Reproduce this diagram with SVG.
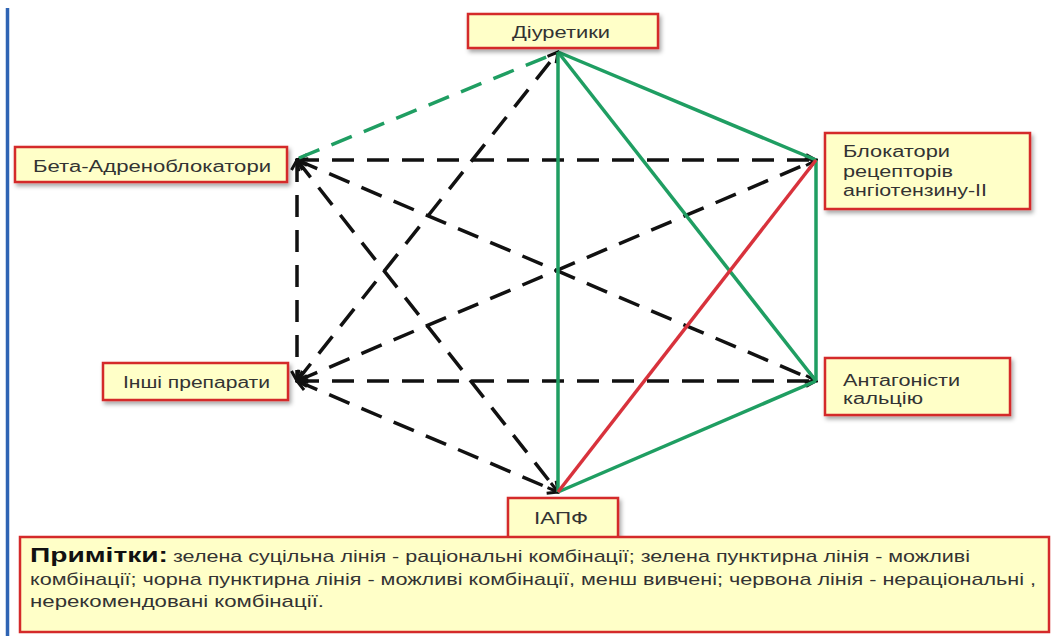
<svg xmlns="http://www.w3.org/2000/svg" width="1057" height="636" viewBox="0 0 1057 636">
<defs>
<style>
.box{fill:#ffffc8;stroke:#d42a2a;stroke-width:2.5}
.lbl{font-family:"Liberation Sans",Arial,sans-serif;font-size:16px;fill:#333}
.note{font-family:"Liberation Sans",Arial,sans-serif;font-size:17px;fill:#333}
.bold{font-family:"Liberation Sans",Arial,sans-serif;font-weight:bold;font-size:20px;fill:#111}
.g{stroke:#1f9e62;stroke-width:3.5;fill:none}
.gd{stroke:#1f9e62;stroke-width:3.5;fill:none;stroke-dasharray:22 13}
.r{stroke:#d8323c;stroke-width:3.5;fill:none}
.bd{stroke:#111;stroke-width:3.5;fill:none;stroke-dasharray:22 13;marker-start:url(#ah);marker-end:url(#ah)}
</style>
<filter id="sh" x="-10%" y="-20%" width="130%" height="160%">
<feDropShadow dx="2" dy="3" stdDeviation="2" flood-color="#000" flood-opacity="0.35"/>
</filter>
<marker id="ah" viewBox="0 0 14 14" refX="12" refY="7" markerWidth="14" markerHeight="14" markerUnits="userSpaceOnUse" orient="auto-start-reverse">
<path d="M2,1.5 L12,7 L2,12.5" fill="none" stroke="#111" stroke-width="3"/>
</marker>
</defs>
<rect width="1057" height="636" fill="#fff"/>
<line x1="8" y1="8" x2="1057" y2="8" stroke="#b0b0b0" stroke-width="1.5" filter="url(#sh)"/>
<line x1="7.5" y1="8" x2="7.5" y2="636" stroke="#2f64b4" stroke-width="3.5"/>

<g id="connectors">
<line class="bd" x1="297" y1="160" x2="816" y2="160"/>
<line class="bd" x1="297" y1="160" x2="816" y2="381"/>
<line class="bd" x1="297" y1="160" x2="558" y2="492"/>
<line class="bd" x1="297" y1="160" x2="297" y2="381"/>
<line class="bd" x1="297" y1="381" x2="558" y2="52"/>
<line class="bd" x1="297" y1="381" x2="816" y2="160"/>
<line class="bd" x1="297" y1="381" x2="816" y2="381"/>
<line class="bd" x1="297" y1="381" x2="558" y2="492"/>
<line class="gd" x1="299" y1="158" x2="556" y2="53"/>
<line class="g" x1="558" y1="52" x2="558" y2="492"/>
<line class="g" x1="558" y1="52" x2="816" y2="160"/>
<line class="g" x1="558" y1="52" x2="816" y2="381"/>
<line class="g" x1="816" y1="160" x2="816" y2="381"/>
<line class="g" x1="816" y1="381" x2="558" y2="492"/>
<line class="r" x1="816" y1="160" x2="558" y2="492"/>
</g>

<g id="diuretyky">
<rect class="box" x="468" y="14" width="190" height="34" filter="url(#sh)"/>
<text class="lbl" x="561" y="38" text-anchor="middle" textLength="98" lengthAdjust="spacingAndGlyphs">Діуретики</text>
</g>
<g id="beta">
<rect class="box" x="15" y="147" width="272" height="35" filter="url(#sh)"/>
<text class="lbl" x="33" y="172" font-size="17" textLength="238" lengthAdjust="spacingAndGlyphs">Бета-Адреноблокатори</text>
</g>
<g id="arb">
<rect class="box" x="825" y="133" width="205" height="76" filter="url(#sh)"/>
<text class="lbl" x="843" y="157" textLength="107" lengthAdjust="spacingAndGlyphs">Блокатори</text>
<text class="lbl" x="843" y="177" textLength="110" lengthAdjust="spacingAndGlyphs">рецепторів</text>
<text class="lbl" x="843" y="196" textLength="144" lengthAdjust="spacingAndGlyphs">ангіотензину-ІІ</text>
</g>
<g id="inshi">
<rect class="box" x="103" y="363" width="185" height="37" filter="url(#sh)"/>
<text class="lbl" x="123" y="388" textLength="147" lengthAdjust="spacingAndGlyphs">Інші препарати</text>
</g>
<g id="antagonisty">
<rect class="box" x="825" y="358" width="185" height="57" filter="url(#sh)"/>
<text class="lbl" x="843" y="386" textLength="117" lengthAdjust="spacingAndGlyphs">Антагоністи</text>
<text class="lbl" x="843" y="404" textLength="80" lengthAdjust="spacingAndGlyphs">кальцію</text>
</g>
<g id="iapf">
<rect class="box" x="508" y="498" width="110" height="40" filter="url(#sh)"/>
<text class="lbl" x="561" y="524" font-size="15" text-anchor="middle" textLength="54" lengthAdjust="spacingAndGlyphs">ІАПФ</text>
</g>
<g id="notes">
<rect class="box" x="20" y="537" width="1029" height="95"/>
<text class="bold" x="30" y="562" textLength="138" lengthAdjust="spacingAndGlyphs">Примітки:</text>
<text class="note" x="173" y="562" textLength="797" lengthAdjust="spacingAndGlyphs">зелена суцільна лінія - раціональні комбінації; зелена пунктирна лінія - можливі</text>
<text class="note" x="30" y="585" textLength="1006" lengthAdjust="spacingAndGlyphs">комбінації; чорна пунктирна лінія - можливі комбінації, менш вивчені; червона лінія - нераціональні ,</text>
<text class="note" x="30" y="607" textLength="294" lengthAdjust="spacingAndGlyphs">нерекомендовані комбінації.</text>
</g>
</svg>
